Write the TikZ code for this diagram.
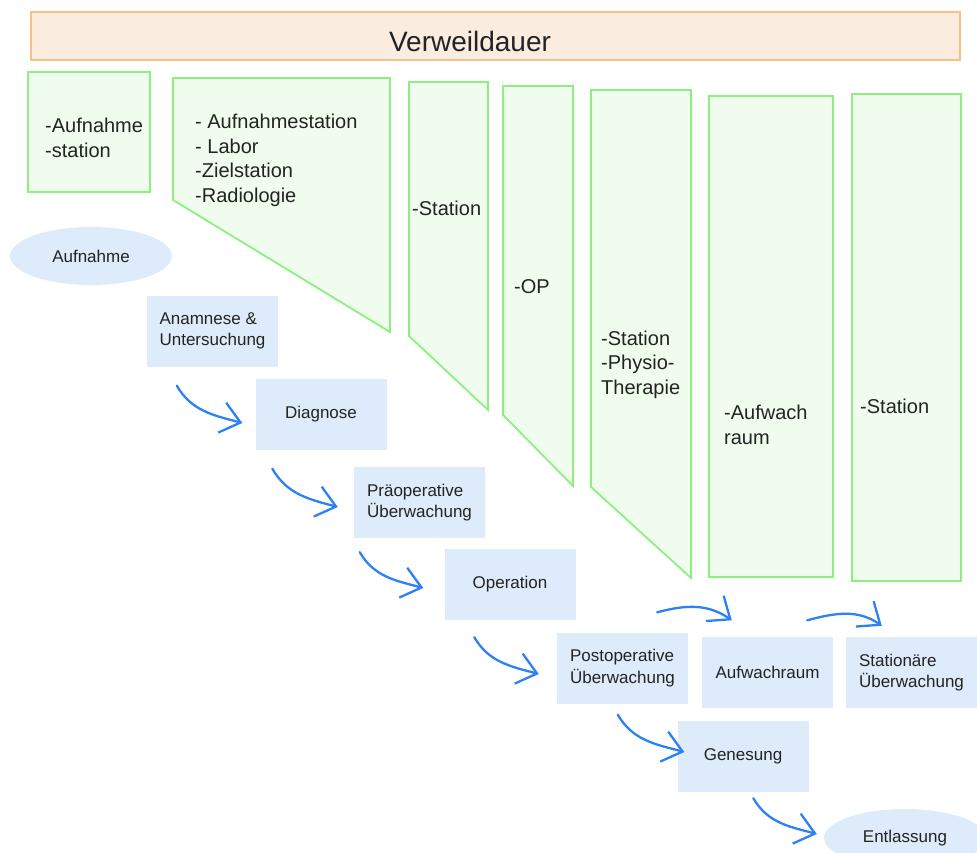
\documentclass[tikz,border=0pt]{standalone}
\usepackage{fontspec}
\setmainfont{Liberation Sans}
\usetikzlibrary{shapes.geometric,arrows.meta}
\definecolor{kopffill}{RGB}{250,236,222}
\definecolor{kopfrand}{RGB}{247,192,136}
\definecolor{zonefill}{RGB}{240,252,238}
\definecolor{zonerand}{RGB}{140,240,128}
\definecolor{blkfill}{RGB}{222,235,250}
\definecolor{pfeilblau}{RGB}{45,128,245}
\definecolor{schrift}{RGB}{35,35,35}

\begin{document}
\begin{tikzpicture}[x=1pt, y=-1pt, text=schrift,
        zone/.style={draw=zonerand, fill=zonefill, line width=1.8pt},
        ztext/.style={anchor=base west, inner sep=0pt, align=left, font=\fontsize{20}{24.5}\selectfont},
        blk/.style={fill=blkfill, minimum width=131pt, minimum height=71pt, inner sep=0pt, align=left, font=\fontsize{17}{21.5}\selectfont},
        oval/.style={ellipse, fill=blkfill, minimum width=162pt, minimum height=58pt, inner sep=0pt, font=\fontsize{17}{21.5}\selectfont},
        pfeil/.style={draw=pfeilblau, line width=2.3pt, line cap=round, -{Straight Barb[length=19pt,width=31pt,line width=2.3pt]}}]
        \useasboundingbox (0,0) rectangle (977,852);
        \filldraw[draw=kopfrand, fill=kopffill, line width=1.5pt] (31,12) rectangle (960,60);
        \node[font=\fontsize{28}{32}\selectfont] (titel) at (470,41) {Verweildauer};
        \filldraw[zone] (28,72) rectangle (150,192);
        \filldraw[zone] (173,78) -- (390,78) -- (390,332) -- (173,200) -- cycle;
        \filldraw[zone] (409,82) -- (488,82) -- (488,410) -- (409,336) -- cycle;
        \filldraw[zone] (503,86) -- (573,86) -- (573,486) -- (503,415) -- cycle;
        \filldraw[zone] (591,90) -- (691,90) -- (691,578) -- (591,487) -- cycle;
        \filldraw[zone] (709,96) rectangle (833,577);
        \filldraw[zone] (852,94) rectangle (961,581);
        \node[ztext] (z1) at (45,157) {-Aufnahme\\-station};
        \node[ztext] (z2) at (195,202) {- Aufnahmestation\\- Labor\\-Zielstation\\-Radiologie};
        \node[ztext] (z3) at (412,215) {-Station};
        \node[ztext] (z4) at (514,293) {-OP};
        \node[ztext] (z5) at (601,394) {-Station\\-Physio-\\Therapie};
        \node[ztext] (z6) at (724,444) {-Aufwach\\raum};
        \node[ztext] (z7) at (860,413) {-Station};
        \node[oval] (aufn) at (91,256) {Aufnahme};
        \node[blk] (anam) at (212.5,331) {Anamnese \&\\Untersuchung};
        \node[blk] (diag) at (321,414) {Diagnose};
        \node[blk] (prae) at (419.5,502.5) {Präoperative\\Überwachung};
        \node[blk] (oper) at (510,584.5) {Operation};
        \node[blk] (post) at (622.5,668) {Postoperative\\Überwachung};
        \node[blk] (aufw) at (767.5,672) {Aufwachraum};
        \node[blk] (stat) at (911.5,672.5) {Stationäre\\Überwachung};
        \node[blk] (gene) at (743,756.5) {Genesung};
        \node[oval] (entl) at (905,838) {Entlassung};
        \draw[pfeil] ([xshift=30pt,yshift=-19pt]anam.south west) to[out=-60,in=165] ([xshift=-13pt,yshift=-9pt]diag.west);
        \draw[pfeil] ([xshift=17pt,yshift=-19pt]diag.south west) to[out=-60,in=165] ([xshift=-16pt,yshift=-4.5pt]prae.west);
        \draw[pfeil] ([xshift=6pt,yshift=-14pt]prae.south west) to[out=-60,in=165] ([xshift=-21pt,yshift=-3.5pt]oper.west);
        \draw[pfeil] ([xshift=30pt,yshift=-17pt]oper.south west) to[out=-60,in=165] ([xshift=-18pt,yshift=-6pt]post.west);
        \draw[pfeil] ([xshift=-31pt,yshift=20pt]post.north east) to[out=15,in=145] ([xshift=30pt,yshift=16pt]aufw.north west);
        \draw[pfeil] ([xshift=-26pt,yshift=16pt]aufw.north east) to[out=15,in=145] ([xshift=36pt,yshift=11pt]stat.north west);
        \draw[pfeil] ([xshift=61pt,yshift=-11pt]post.south west) to[out=-60,in=165] ([xshift=7pt,yshift=4.5pt]gene.west);
        \draw[pfeil] ([xshift=76pt,yshift=-6pt]gene.south west) to[out=-60,in=165] ([xshift=-7pt,yshift=4pt]entl.west);
    \end{tikzpicture}
\end{document}
